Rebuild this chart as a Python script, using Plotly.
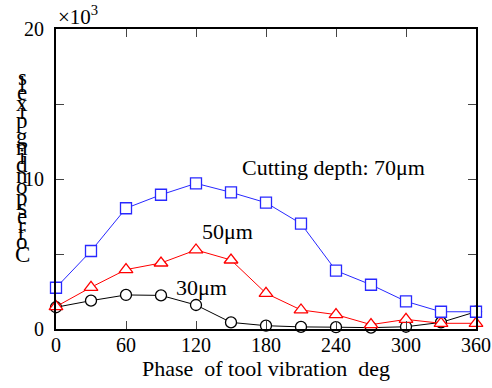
import plotly.graph_objects as go

phase = [0, 30, 60, 90, 120, 150, 180, 210, 240, 270, 300, 330, 360]
depth70 = [2.75, 5.2, 8.05, 8.95, 9.71, 9.11, 8.42, 7.02, 3.89, 2.95, 1.84, 1.15, 1.15]
depth50 = [1.49, 2.78, 3.96, 4.4, 5.27, 4.6, 2.38, 1.27, 0.96, 0.29, 0.64, 0.38, 0.38]
depth30 = [1.45, 1.89, 2.27, 2.24, 1.6, 0.44, 0.22, 0.14, 0.12, 0.09, 0.15, 0.44, 1.15]

x_ticks = [0, 60, 120, 180, 240, 300, 360]
y_ticks = [0, 5, 10, 15, 20]
y_ticktext = ["0", "", "10", "", "20"]
y_label = "Corresponding pixels"
x_label = "Phase\u00a0\u00a0of tool vibration\u00a0\u00a0deg"

W, H = 492, 388
L, R, T, B = 56, 16, 29, 59
FONT = "Liberation Serif"

fig = go.Figure()

series = [
    (depth30, "black", "circle", 11),
    (depth50, "rgb(255,0,0)", "triangle-up", 12),
    (depth70, "rgb(40,40,255)", "square", 11),
]
for vals, col, sym, sz in series:
    fig.add_trace(go.Scatter(
        x=phase, y=vals, mode="lines+markers",
        line=dict(color=col, width=1),
        marker=dict(symbol=sym, size=sz, color="white", line=dict(color=col, width=1.3)),
        cliponaxis=False, showlegend=False,
    ))

annots = [
    dict(x=238, y=10.8, text="Cutting depth: 70\u03bcm"),
    dict(x=147, y=6.5, text="50\u03bcm"),
    dict(x=125, y=2.75, text="30\u03bcm"),
]
for a in annots:
    fig.add_annotation(x=a["x"], y=a["y"], xref="x", yref="y", text=a["text"],
                       showarrow=False, font=dict(family=FONT, size=22, color="black"))

fig.add_annotation(x=0, y=1, xref="paper", yref="paper", xanchor="left", yanchor="bottom",
                   text="\u00d710<sup>3</sup>", showarrow=False, yshift=-2,
                   font=dict(family=FONT, size=21, color="black"))

# vertical stacked y-axis label (upright glyphs, reading bottom to top)
widths = {"C": .667, "o": .5, "r": .333, "e": .444, "s": .389, "p": .5, "n": .5,
          "d": .5, "i": .278, "g": .5, " ": .25, "x": .5, "l": .278}
F = 22
bottom_px = 262
cx_px = 22
acc = 0.0
ph = H - T - B
pw = W - L - R
for ch in y_label:
    w = widths.get(ch, .5) * F
    cy_px = bottom_px - acc - w / 2
    acc += w
    if ch == " ":
        continue
    fig.add_annotation(x=(cx_px - L) / pw, y=(H - B - cy_px) / ph, xref="paper", yref="paper",
                       text=ch, showarrow=False, xanchor="center", yanchor="middle",
                       font=dict(family=FONT, size=23, color="black"))

fig.update_layout(
    width=W, height=H, margin=dict(l=L, r=R, t=T, b=B),
    paper_bgcolor="white", plot_bgcolor="white",
    font=dict(family=FONT, size=20, color="black"),
    xaxis=dict(range=[0, 360], tickvals=x_ticks, ticks="inside", ticklen=8, tickwidth=1,
               showline=True, linewidth=2, linecolor="black", mirror="ticks",
               showgrid=False, zeroline=False, tickfont=dict(size=20), automargin=False,
               ticklabelstandoff=-3,
               title=dict(text=x_label, font=dict(size=22), standoff=6)),
    yaxis=dict(range=[0, 20], tickvals=y_ticks, ticktext=y_ticktext, ticks="inside",
               ticklen=8, tickwidth=1, showline=True, linewidth=2, linecolor="black",
               mirror="ticks", showgrid=False, zeroline=False, tickfont=dict(size=20),
               ticklabelstandoff=6, automargin=False),
)

fig.write_html("out.html", config={"displayModeBar": False},
               post_script="document.body.style.margin='0';document.body.style.overflow='hidden';")
